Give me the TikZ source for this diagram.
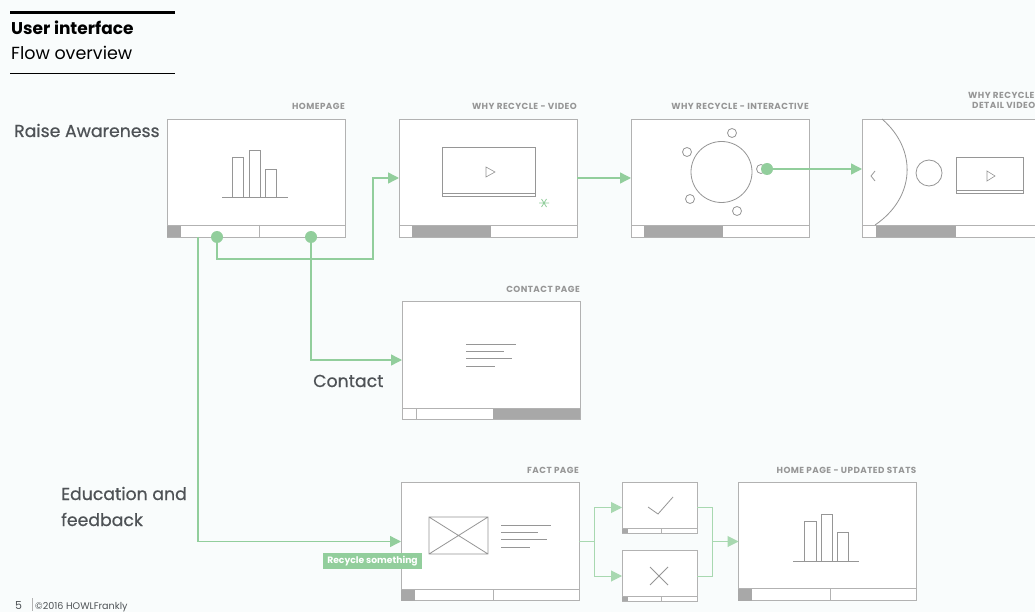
\documentclass[tikz,border=0pt]{standalone}
\usepackage{fontspec}
\setmainfont{Poppins}
\newfontfamily\capsfont[LetterSpace=5]{Poppins}
\newfontfamily\mediumfont[FakeBold=0.6]{Poppins}
\usetikzlibrary{positioning}
\usetikzlibrary{arrows.meta}
\definecolor{flowGreen}{RGB}{146,206,156}
\definecolor{frameGray}{RGB}{178,178,178}
\definecolor{sketchGray}{RGB}{150,150,150}
\definecolor{barGray}{RGB}{168,168,168}
\definecolor{labelGray}{RGB}{150,150,150}
\definecolor{textGray}{RGB}{78,82,86}
\definecolor{pageBg}{RGB}{249,252,252}
\tikzset{
	screen/.style = {
		draw = frameGray, fill = white, line width = 0.9pt,
		inner sep = 0pt, outer sep = 0pt,
		minimum width = 178pt, minimum height = 118pt
	},
	smallScreen/.style = {
		screen, minimum width = 75pt, minimum height = 51pt
	},
	barLine/.style = {
		draw = frameGray, line width = 0.9pt
	},
	sketchLine/.style = {
		draw = sketchGray, line width = 0.8pt
	},
	flowLine/.style = {
		draw = flowGreen, line width = 1.4pt
	},
	flowArrow/.style = {
		flowLine, -{Triangle[length=11pt, width=11pt]}
	},
	resultLine/.style = {
		draw = flowGreen!80, line width = 1pt
	},
	resultArrow/.style = {
		resultLine, -{Triangle[length=11pt, width=11pt]}
	},
	flowDot/.style = {
		circle, fill = flowGreen, inner sep = 0pt, minimum size = 12pt
	},
	pageLabel/.style = {
		text = labelGray, inner sep = 0pt, anchor = base east,
		font = \capsfont\fontsize{8.8}{10}\selectfont\bfseries
	},
	sectionText/.style = {
		text = textGray, inner sep = 0pt, anchor = base west, align = left,
		font = \mediumfont\fontsize{17.3}{26}\selectfont
	},
	tag/.style = {
		fill = flowGreen, text = white, inner sep = 0pt,
		minimum width = 99pt, minimum height = 16pt,
		font = \fontsize{9.2}{10}\selectfont\bfseries
	}
}

\begin{document}
\begin{tikzpicture}[x=1pt, y=-1pt]
	\fill[pageBg] (0,0) rectangle (1035,612);
	\useasboundingbox (0,0) rectangle (1035,612);

	% heading
	\draw[line width=3pt] (10,13) -- (175,13);
	\node[anchor=base west, inner sep=0pt, font=\fontsize{17}{19}\selectfont\bfseries] (title) at (11,35) {User interface};
	\node[anchor=base west, inner sep=0pt, font=\fontsize{17.5}{19}\selectfont] (subtitle) at (11,60) {Flow overview};
	\draw[line width=1.2pt] (10,73.5) -- (175,73.5);

	% screens
	\node[screen] (home) at (256,178) {};
	\node[screen] (video) at (488,178) {};
	\node[screen] (inter) at (720,178) {};
	\node[screen] (detail) at (951,178) {};
	\node[screen] (contact) at (491,360) {};
	\node[screen] (fact) at (490,541.5) {};
	\node[smallScreen] (check) at (659.5,507.5) {};
	\node[smallScreen] (cross) at (659.5,576) {};
	\node[screen] (stats) at (827.5,541.5) {};

	% screen titles
	\node[pageLabel] (homeLabel) at ([yshift=9pt]home.north east) {HOMEPAGE};
	\node[pageLabel] (videoLabel) at ([yshift=9pt]video.north east) {WHY RECYCLE - VIDEO};
	\node[pageLabel] (interLabel) at ([yshift=9pt]inter.north east) {WHY RECYCLE - INTERACTIVE};
	\node[pageLabel, anchor=base west] (detailLabelA) at (968,99) {WHY RECYCLE};
	\node[pageLabel, anchor=base west] (detailLabelB) at (972,109) {DETAIL VIDEO};
	\node[pageLabel] (contactLabel) at ([yshift=9pt]contact.north east) {CONTACT PAGE};
	\node[pageLabel] (factLabel) at ([yshift=9pt]fact.north east) {FACT PAGE};
	\node[pageLabel] (statsLabel) at ([yshift=9pt]stats.north east) {HOME PAGE - UPDATED STATS};

	% bottom bars
	\fill[barGray] (167,225) rectangle (181,237);
	\draw[barLine] (167,225) -- (345,225) (259,225) -- (259,237);
	\fill[barGray] (412,225) rectangle (491,237);
	\draw[barLine] (399,225) -- (577,225);
	\fill[barGray] (644,225) rectangle (723,237);
	\draw[barLine] (631,225) -- (809,225);
	\fill[barGray] (876,225) rectangle (956,237);
	\draw[barLine] (862,225) -- (1040,225);
	\fill[barGray] (493,408) rectangle (580,419);
	\draw[barLine] (402,408) -- (580,408) (416,408) -- (416,419);
	\fill[barGray] (401,589) rectangle (415,600.5);
	\draw[barLine] (401,589) -- (579,589) (493,589) -- (493,600.5);
	\fill[barGray] (622,528) rectangle (628,533);
	\draw[barLine] (622,528) -- (697,528) (661,528) -- (661,533);
	\fill[barGray] (622,596) rectangle (628,601);
	\draw[barLine] (622,596) -- (697,596) (661,596) -- (661,601);
	\fill[barGray] (738,588) rectangle (752,600.5);
	\draw[barLine] (738,588) -- (917,588) (830,588) -- (830,600.5);

	% homepage chart
	\draw[sketchLine] (222,197) -- (288,197);
	\draw[sketchLine] (232,197) |- (243,157) -- (243,197);
	\draw[sketchLine] (249,197) |- (260,150) -- (260,197);
	\draw[sketchLine] (265,197) |- (276,169) -- (276,197);

	% video screen
	\draw[sketchLine] (442,147) rectangle (535,196) (442,193) -- (535,193);
	\draw[sketchLine, line width=0.6pt] (486,167) -- (486,177) -- (495,172) -- cycle;
	\draw[flowGreen, line width=0.8pt] (539,203) -- (549,203) (541.5,199) -- (546.5,207) (546.5,199) -- (541.5,207);

	% interactive screen
	\draw[sketchLine] (721.5,172) circle (30.5pt);
	\foreach \cx/\cy in {732/133, 687/152, 690/199, 737/211, 761/169}
		\draw[sketchLine] (\cx,\cy) circle (4.5pt);

	% detail screen
	\draw[sketchLine] (882,119) .. controls (918,150) and (915,198) .. (875,225);
	\draw[sketchLine] (875,171) -- (871,176) -- (875,181);
	\draw[sketchLine] (929,173) circle (13pt);
	\draw[sketchLine] (956,157) rectangle (1023,193) (956,190) -- (1023,190);
	\draw[sketchLine, line width=0.6pt] (987,171) -- (987,181) -- (995,176) -- cycle;

	% contact screen
	\draw[sketchLine] (466,344) -- (516,344) (466,351) -- (504,351) (466,358) -- (512,358) (466,366) -- (495,366);

	% fact screen
	\draw[sketchLine] (429,517) rectangle (488,554) (429,517) -- (488,554) (429,554) -- (488,517);
	\draw[sketchLine] (501,525) -- (551,525) (501,532) -- (538,532) (501,539.5) -- (547,539.5) (501,547) -- (530,547);

	% result screens
	\draw[sketchLine] (648,507) -- (658,514) -- (673,497);
	\draw[sketchLine] (650,567) -- (668,585) (650,585) -- (668,567);

	% stats chart
	\draw[sketchLine] (793,561) -- (859,561);
	\draw[sketchLine] (804,561) |- (816,521) -- (816,561);
	\draw[sketchLine] (821,561) |- (832,514) -- (832,561);
	\draw[sketchLine] (837,561) |- (848,532) -- (848,561);

	% connectors
	\node[flowDot] (homeDotA) at (217,237) {};
	\node[flowDot] (homeDotB) at (311,237) {};
	\node[flowDot] (interDot) at (767,169) {};
	\coordinate (homeExit) at (198,237);
	\coordinate (videoBend) at (373,259);
	\coordinate (factSplit) at (594,541.5);
	\coordinate (resultJoin) at (712,541.5);

	\draw[flowArrow] (homeDotA) |- (videoBend) |- (video.west);
	\draw[flowArrow] (video.east) -- (inter.west);
	\draw[flowArrow] (interDot) -- (interDot -| detail.west);
	\draw[flowArrow] (homeDotB) |- (contact.west);
	\draw[flowArrow] (homeExit) |- (fact.west);
	\draw[resultLine] (fact.east) -- (factSplit);
	\draw[resultArrow] (factSplit) |- (check.west);
	\draw[resultArrow] (factSplit) |- (cross.west);
	\draw[resultLine] (check.east) -| (resultJoin);
	\draw[resultLine] (cross.east) -| (resultJoin);
	\draw[resultArrow] (resultJoin) -- (stats.west);

	\node[tag] (recycleTag) at (372.5,561) {Recycle something};

	% section names
	\node[sectionText] (raise) at (14,137) {Raise Awareness};
	\node[sectionText] (contactText) at (313,387) {Contact};
	\node[sectionText] (education) at (61,526) {Education and\\feedback};

	% footer
	\node[anchor=base west, inner sep=0pt, text=textGray, font=\fontsize{11}{12}\selectfont] (pageNum) at (15,609) {5};
	\draw[frameGray, line width=0.8pt] (32,598) -- (32,611);
	\node[anchor=base west, inner sep=0pt, text=textGray, font=\fontsize{9.6}{10}\selectfont] (footer) at (35,609) {©2016 HOWLFrankly};
\end{tikzpicture}
\end{document}
